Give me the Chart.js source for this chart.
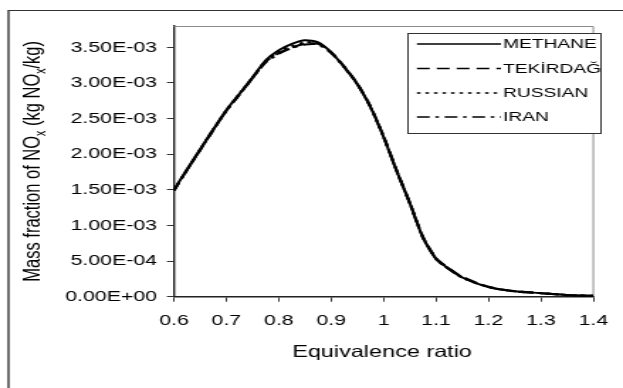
<!DOCTYPE html>
<html>
<head>
<meta charset="utf-8">
<script src="https://cdn.jsdelivr.net/npm/chart.js@4.4.1/dist/chart.umd.min.js"></script>
<style>
html, body { margin: 0; padding: 0; background: #fff; overflow: hidden; }
/* the original picture is wide-stretched, so draw narrow and stretch it */
#wrap { width: 439px; height: 388px; transform: scaleX(1.41913); transform-origin: 0 0; }
</style>
</head>
<body>
<div id="wrap"><canvas id="noxChart" width="439" height="388"></canvas></div>
<script>
// Equivalence ratio (x) and NOx mass fraction (kg NOx / kg) for each fuel
var ratio    = [0.6, 0.625, 0.65, 0.675, 0.7, 0.725, 0.75, 0.775, 0.8, 0.825, 0.85, 0.875, 0.9, 0.925, 0.95, 0.975, 1.0, 1.025, 1.05, 1.075, 1.1, 1.115, 1.15, 1.2, 1.25, 1.3, 1.35, 1.4];
var methane  = [1.50e-3, 1.79e-3, 2.07e-3, 2.35e-3, 2.62e-3, 2.85e-3, 3.08e-3, 3.32e-3, 3.46e-3, 3.55e-3, 3.60e-3, 3.57e-3, 3.43e-3, 3.22e-3, 2.98e-3, 2.66e-3, 2.24e-3, 1.76e-3, 1.31e-3, 0.83e-3, 0.53e-3, 0.44e-3, 0.27e-3, 0.135e-3, 0.075e-3, 0.05e-3, 0.022e-3, 0.012e-3];
var tekirdag = [1.49e-3, 1.78e-3, 2.06e-3, 2.34e-3, 2.61e-3, 2.84e-3, 3.07e-3, 3.30e-3, 3.42e-3, 3.50e-3, 3.55e-3, 3.55e-3, 3.43e-3, 3.23e-3, 2.99e-3, 2.67e-3, 2.25e-3, 1.77e-3, 1.32e-3, 0.84e-3, 0.54e-3, 0.45e-3, 0.28e-3, 0.14e-3, 0.08e-3, 0.05e-3, 0.024e-3, 0.013e-3];
var russian  = [1.50e-3, 1.78e-3, 2.07e-3, 2.35e-3, 2.62e-3, 2.85e-3, 3.08e-3, 3.31e-3, 3.44e-3, 3.52e-3, 3.57e-3, 3.56e-3, 3.43e-3, 3.22e-3, 2.98e-3, 2.66e-3, 2.24e-3, 1.76e-3, 1.31e-3, 0.83e-3, 0.53e-3, 0.44e-3, 0.27e-3, 0.135e-3, 0.075e-3, 0.05e-3, 0.022e-3, 0.012e-3];
var iran     = [1.49e-3, 1.78e-3, 2.06e-3, 2.34e-3, 2.61e-3, 2.84e-3, 3.07e-3, 3.29e-3, 3.41e-3, 3.49e-3, 3.54e-3, 3.54e-3, 3.42e-3, 3.22e-3, 2.98e-3, 2.66e-3, 2.24e-3, 1.76e-3, 1.31e-3, 0.83e-3, 0.53e-3, 0.44e-3, 0.27e-3, 0.135e-3, 0.075e-3, 0.05e-3, 0.022e-3, 0.012e-3];

var seriesNames = ['METHANE', 'TEKİRDAĞ', 'RUSSIAN', 'IRAN'];
var xTicks = [0.6, 0.7, 0.8, 0.9, 1.0, 1.1, 1.2, 1.3, 1.4];
var yTicks = [0, 0.5e-3, 1.0e-3, 1.5e-3, 2.0e-3, 2.5e-3, 3.0e-3, 3.5e-3];

var FONT = "'Liberation Sans', Arial, sans-serif";

function pts(ys) {
    return ratio.map(function (x, i) { return { x: x, y: ys[i] }; });
}

// 3.50E-03 style labels like Excel
function sciLabel(v) {
    var parts = Number(v).toExponential(2).split('e');
    var exp = parseInt(parts[1], 10);
    var sign = exp < 0 ? '-' : '+';
    var e = Math.abs(exp);
    return parts[0] + 'E' + sign + (e < 10 ? '0' + e : e);
}

var decor = {
    id: 'decor',
    beforeDraw: function (chart) {
        var ctx = chart.ctx;
        ctx.save();
        ctx.fillStyle = '#fff';
        ctx.fillRect(0, 0, chart.width, chart.height);
        // outer chart frame (only left and top edges are visible)
        ctx.strokeStyle = '#333';
        ctx.lineWidth = 1.4;
        ctx.beginPath();
        ctx.moveTo(6, 10);
        ctx.lineTo(6, chart.height);
        ctx.stroke();
        ctx.lineWidth = 1;
        ctx.beginPath();
        ctx.moveTo(6, 10.5);
        ctx.lineTo(chart.width, 10.5);
        ctx.stroke();
        ctx.restore();
    },
    beforeDatasetsDraw: function (chart) {
        var a = chart.chartArea, ctx = chart.ctx;
        ctx.save();
        ctx.strokeStyle = '#8c8c8c';
        ctx.lineWidth = 1;
        ctx.beginPath();
        ctx.moveTo(a.left, a.top + 0.5);
        ctx.lineTo(a.right, a.top + 0.5);
        ctx.lineTo(a.right, a.bottom);
        ctx.stroke();
        ctx.restore();
    },
    afterDraw: function (chart) {
        var ctx = chart.ctx, a = chart.chartArea;
        ctx.save();

        // legend box
        ctx.fillStyle = '#fff';
        ctx.fillRect(287.5, 33.5, 136, 100);
        ctx.strokeStyle = '#333';
        ctx.lineWidth = 1;
        ctx.strokeRect(287.5, 33.5, 136, 100);
        var rows = [44, 68.5, 93, 117];
        chart.data.datasets.forEach(function (ds, i) {
            ctx.strokeStyle = '#000';
            ctx.lineWidth = 1.5;
            ctx.setLineDash(ds.borderDash || []);
            ctx.beginPath();
            ctx.moveTo(293.8, rows[i]);
            ctx.lineTo(353, rows[i]);
            ctx.stroke();
            ctx.setLineDash([]);
            ctx.fillStyle = '#000';
            ctx.font = '13.5px ' + FONT;
            ctx.textAlign = 'left';
            ctx.textBaseline = 'middle';
            ctx.fillText(ds.label, 354.4, rows[i] + 0.5);
        });

        // x axis title
        ctx.fillStyle = '#000';
        ctx.font = '16.5px ' + FONT;
        ctx.textAlign = 'center';
        ctx.textBaseline = 'middle';
        ctx.fillText('Equivalence ratio', 269.2, 352);

        // y axis title with subscripts
        var pieces = [
            ['Mass fraction of NO', false], ['x', true],
            [' (kg NO', false], ['x', true], ['/kg)', false]
        ];
        var main = '16.5px ' + FONT, sub = '10.5px ' + FONT;
        var total = 0;
        pieces.forEach(function (p) {
            ctx.font = p[1] ? sub : main;
            total += ctx.measureText(p[0]).width;
        });
        ctx.translate(28, (a.top + a.bottom) / 2);
        ctx.rotate(-Math.PI / 2);
        ctx.textAlign = 'left';
        ctx.textBaseline = 'alphabetic';
        var pos = -total / 2;
        pieces.forEach(function (p) {
            ctx.font = p[1] ? sub : main;
            ctx.fillText(p[0], pos, p[1] ? 4 : 0);
            pos += ctx.measureText(p[0]).width;
        });
        ctx.restore();
    }
};

function lineSet(name, ys, dash) {
    return {
        label: name,
        data: pts(ys),
        borderColor: '#000',
        backgroundColor: 'transparent',
        borderWidth: 2,
        borderDash: dash,
        pointRadius: 0,
        tension: 0.25
    };
}

var ctx = document.getElementById('noxChart').getContext('2d');
var noxChart = new Chart(ctx, {
    type: 'line',
    data: {
        datasets: [
            lineSet(seriesNames[0], methane, []),
            lineSet(seriesNames[1], tekirdag, [9, 5]),
            lineSet(seriesNames[2], russian, [2.5, 3.5]),
            lineSet(seriesNames[3], iran, [9, 4, 2.5, 4])
        ]
    },
    options: {
        responsive: false,
        animation: false,
        devicePixelRatio: 1,
        layout: { padding: { top: 26, right: 10.6, left: 0, bottom: 0 } },
        plugins: { legend: { display: false }, tooltip: { enabled: false } },
        scales: {
            x: {
                type: 'linear',
                min: 0.6,
                max: 1.4,
                afterBuildTicks: function (s) { s.ticks = xTicks.map(function (v) { return { value: v }; }); },
                afterFit: function (s) { s.height = 388 - 296.7; },
                ticks: {
                    autoSkip: false,
                    maxRotation: 0,
                    padding: 10.5,
                    color: '#000',
                    font: { family: FONT, size: 15 },
                    callback: function (v) { return String(Number(v.toFixed(1))); }
                },
                grid: { drawOnChartArea: false, tickLength: 5, tickColor: '#333', tickWidth: 1 },
                border: { color: '#222', width: 1.5 }
            },
            y: {
                min: 0,
                max: 3.8e-3,
                afterBuildTicks: function (s) { s.ticks = yTicks.map(function (v) { return { value: v }; }); },
                afterFit: function (s) { s.width = 122.6; },
                ticks: {
                    padding: 7,
                    color: '#000',
                    font: { family: FONT, size: 15 },
                    callback: function (v) { return sciLabel(v); }
                },
                grid: { drawOnChartArea: false, tickLength: 5, tickColor: '#333', tickWidth: 1 },
                border: { color: '#222', width: 1.4 }
            }
        }
    },
    plugins: [decor]
});
</script>
</body>
</html>
